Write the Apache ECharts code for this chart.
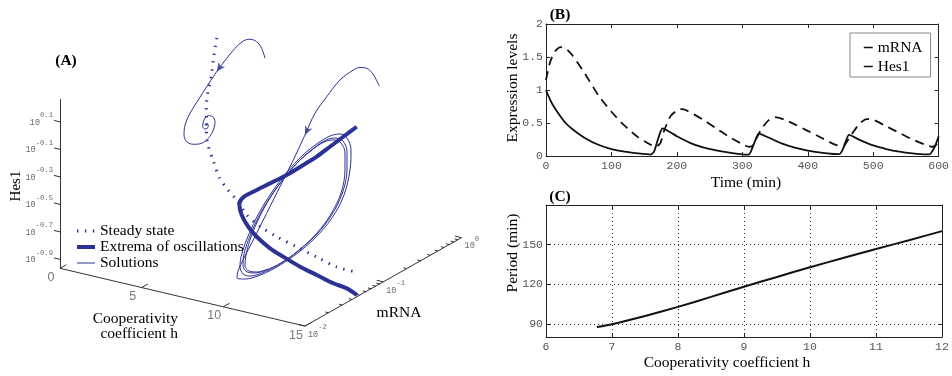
<!DOCTYPE html>
<html><head><meta charset="utf-8">
<script src="https://cdn.jsdelivr.net/npm/echarts@6/dist/echarts.min.js"></script>
<style>html,body{margin:0;padding:0;background:#fff}#c{width:952px;height:376px}</style>
</head><body><div id="c"></div>
<script>
// ===== Panel A data (3D: h, log10 mRNA, log10 Hes1) =====
const hRange = [0, 15];
const logMRNARange = [-2, 0];
const logHes1Range = [-0.965, 0.265];
const hTicks = [0, 5, 10, 15];
const hTickLabels = ['0', '5', '10', '15'];
const hes1Ticks = [0.1, -0.1, -0.3, -0.5, -0.7, -0.9];
const hes1TickLabels = ['0.1', '-0.1', '-0.3', '-0.5', '-0.7', '-0.9'];
const mrnaTicks = [-2, -1, 0];
const mrnaTickLabels = ['-2', '-1', '0'];

const steadyH = [1.6, 1.9, 2.2, 2.4, 2.7, 3.1, 3.6, 4.4, 5.1, 5.8, 6.6, 7.5, 8.5, 9.7, 11.1, 12.4, 13.8, 15];
const steadyLogMRNA = [-0.331, -0.436, -0.524, -0.613, -0.694, -0.778, -0.867, -0.955, -1.027, -1.074, -1.118, -1.180, -1.221, -1.254, -1.282, -1.308, -1.335, -1.336];
const steadyLogHes1 = [0.219, 0.114, 0.026, -0.063, -0.144, -0.228, -0.317, -0.405, -0.477, -0.524, -0.568, -0.630, -0.671, -0.704, -0.732, -0.758, -0.785, -0.786];

const extremaH = [15, 14.03, 13.07, 12.11, 11.2, 10.08, 9.0, 7.92, 7.25, 6.8, 7.40, 8.11, 8.81, 9.75, 10.58, 11.61, 12.60, 13.59, 14.35, 15];
const extremaLogMRNA = [-1.339, -1.308, -1.278, -1.247, -1.229, -1.207, -1.195, -1.183, -1.171, -1.128, -1.223, -1.287, -1.325, -1.351, -1.355, -1.356, -1.349, -1.344, -1.331, -1.335];
const extremaLogHes1 = [0.272, 0.162, 0.053, -0.056, -0.148, -0.259, -0.354, -0.449, -0.512, -0.587, -0.620, -0.665, -0.706, -0.755, -0.792, -0.835, -0.870, -0.904, -0.924, -0.953];

const solAH = 3.14;
const solALogMRNA = [-0.037, -0.079, -0.143, -0.228, -0.314, -0.420, -0.526, -0.654, -0.781, -0.889, -0.995, -1.058, -1.071, -1.037, -0.952, -0.845, -0.761, -0.697, -0.675, -0.705, -0.761, -0.816, -0.832, -0.803, -0.761, -0.774, -0.803, -0.778];
const solALogHes1 = [0.019, 0.105, 0.174, 0.219, 0.234, 0.215, 0.176, 0.120, 0.052, -0.010, -0.073, -0.138, -0.206, -0.266, -0.312, -0.339, -0.330, -0.290, -0.237, -0.191, -0.165, -0.179, -0.223, -0.249, -0.246, -0.217, -0.215, -0.228];

const solBH = 10;
const solBLogMRNA = [-0.008, -0.088, -0.169, -0.254, -0.340, -0.510, -0.679, -0.829, -0.957, -1.106, -1.276, -1.446, -1.617, -1.736, -1.812, -1.825,
  -1.723, -1.557, -1.340, -1.084, -0.829, -0.612, -0.458, -0.382, -0.369, -0.420, -0.510, -0.637, -0.791, -0.982, -1.186, -1.378, -1.544, -1.672, -1.761, -1.787, -1.748, -1.659,
  -1.506, -1.301, -1.059, -0.816, -0.625, -0.484, -0.420, -0.420, -0.471, -0.561, -0.688, -0.842, -1.020, -1.212, -1.391, -1.544, -1.659, -1.736, -1.748, -1.697, -1.595,
  -1.455, -1.263, -1.033, -0.803, -0.625, -0.497, -0.446, -0.446, -0.497, -0.586, -0.714, -0.867, -1.046, -1.225, -1.404, -1.544, -1.646, -1.710, -1.723, -1.672, -1.570, -1.429];
const solBLogHes1 = [0.000, 0.113, 0.181, 0.214, 0.223, 0.205, 0.138, 0.066, -0.051, -0.185, -0.324, -0.463, -0.602, -0.695, -0.765, -0.812,
  -0.852, -0.883, -0.895, -0.883, -0.841, -0.765, -0.647, -0.490, -0.349, -0.245, -0.187, -0.161, -0.163, -0.188, -0.246, -0.330, -0.429, -0.541, -0.651, -0.737, -0.807, -0.851,
  -0.878, -0.886, -0.869, -0.823, -0.747, -0.632, -0.478, -0.347, -0.251, -0.200, -0.174, -0.182, -0.212, -0.274, -0.355, -0.451, -0.560, -0.666, -0.749, -0.809, -0.849,
  -0.873, -0.883, -0.863, -0.813, -0.732, -0.621, -0.470, -0.346, -0.257, -0.206, -0.180, -0.189, -0.219, -0.278, -0.366, -0.466, -0.571, -0.682, -0.757, -0.810, -0.850, -0.874];

// ===== Panel B data =====
const timeMRNA = [0,5,10,20,30,40,60,80,100,120,140,160,165,170,175,178,190,200,220,240,260,280,300,310,314,320,325,340,360,380,400,420,440,448,453,458,463,480,500,520,540,560,580,586,594,600];
const mrnaLevels = [1.0,0.88,0.78,0.63,0.5,0.41,0.27,0.17,0.105,0.065,0.04,0.022,0.066,0.22,0.37,0.42,0.36,0.30,0.20,0.13,0.086,0.05,0.025,0.022,0.09,0.24,0.34,0.28,0.19,0.126,0.08,0.05,0.03,0.028,0.09,0.22,0.32,0.24,0.16,0.106,0.066,0.04,0.025,0.025,0.14,0.30];
const timeHes1 = [0,5,10,15,22,30,40,60,80,100,120,140,160,168,175,180,190,200,207,215,240,260,280,300,310,315,320,330,340,350,365,380,400,420,440,450,455,460,470,480,490,500,520,540,560,580,590,595,600];
const hes1Levels = [1.15,1.38,1.52,1.6,1.65,1.63,1.53,1.24,0.92,0.67,0.46,0.29,0.17,0.14,0.2,0.37,0.6,0.69,0.71,0.69,0.55,0.42,0.29,0.18,0.14,0.15,0.24,0.42,0.54,0.59,0.55,0.48,0.38,0.28,0.18,0.15,0.15,0.22,0.37,0.5,0.56,0.55,0.45,0.35,0.25,0.17,0.14,0.16,0.22];

// ===== Panel C data =====
const coopH = [6.77, 7, 7.5, 8, 8.5, 9, 9.5, 10, 10.5, 11, 11.5, 12];
const periodMin = [87.5, 89.7, 95.9, 102.8, 110.4, 118.1, 125.5, 132.9, 139.8, 146.7, 153.3, 160.2];
const periodGrid = [90, 120, 150];

// ===== view / style =====
const BLUE = '#2d3194';
const SERIF = "'Liberation Serif','Times New Roman',serif";
const MONO = "'Liberation Mono','Courier New',monospace";
const SANS = "'Liberation Sans',Arial,sans-serif";
const VIEW = {ox: 60, oy: 268.3, hx: 16.33, hy: 3.85, mx: 78.3, my: -44.2, zy: -137.5};
function proj(h, lm, lz) {
  const dm = lm - logMRNARange[0], dz = lz - logHes1Range[0];
  return [VIEW.ox + VIEW.hx * h + VIEW.mx * dm, VIEW.oy + VIEW.hy * h + VIEW.my * dm + VIEW.zy * dz];
}
const project3 = (hs, ms, zs) => ms.map((m, i) => proj(Array.isArray(hs) ? hs[i] : hs, m, zs[i]));
const steadyPts = project3(steadyH, steadyLogMRNA, steadyLogHes1);
const extremaPts = project3(extremaH, extremaLogMRNA, extremaLogHes1);
const solAPts = project3(solAH, solALogMRNA, solALogHes1);
const solBPts = project3(solBH, solBLogMRNA, solBLogHes1);
function arrowAt(pts, i) {
  const a = pts[i - 1], b = pts[i + 1];
  const ang = Math.atan2(-(b[1] - a[1]), b[0] - a[0]) * 180 / Math.PI - 90;
  return {value: pts[i], symbolRotate: ang};
}
const [H0, H1] = hRange, [LM0, LM1] = logMRNARange, [Z0, Z1] = logHes1Range;
const axisSegs = [[proj(H0, LM0, Z0), proj(H0, LM0, Z1)], [proj(H0, LM0, Z0), proj(H1, LM0, Z0)], [proj(H1, LM0, Z0), proj(H1, LM1, Z0)]];
const tickSegs = [];
hes1Ticks.forEach(z => tickSegs.push([proj(H0, LM0, z), proj(H0 - 0.37, LM0, z)]));
hTicks.forEach(h => tickSegs.push([proj(h, LM0, Z0), proj(h, LM0 + 0.08, Z0)]));
for (let d = LM0; d < LM1; d++) for (let k = 2; k <= 9; k++) {
  const m = d + Math.log10(k); tickSegs.push([proj(H1, m, Z0), proj(H1 - 0.2, m, Z0)]);
}
mrnaTicks.forEach(m => tickSegs.push([proj(H1, m, Z0), proj(H1 - 0.4, m, Z0)]));

const richSup = {
  b: {fontFamily: MONO, fontSize: 8.5, color: '#444', verticalAlign: 'bottom'},
  s: {fontFamily: MONO, fontSize: 7.2, color: '#444', verticalAlign: 'top', padding: [0, 0, 8, 0]}
};
const hidden = {show: false};
const frameLine = {show: true, onZero: false, lineStyle: {color: '#222', width: 1}};
const tickIn = {show: true, inside: true, length: 4, lineStyle: {color: '#222'}};
const monoLabel = {color: '#555', fontFamily: MONO, fontSize: 11.5};

const chart = echarts.init(document.getElementById('c'), null, {renderer: 'canvas', width: 952, height: 376});
chart.setOption({
  animation: false,
  backgroundColor: '#fff',
  grid: [
    {left: 0, top: 0, width: 500, height: 376},
    {left: 546, top: 24, width: 396, height: 132},
    {left: 546, top: 205, width: 396, height: 132}
  ],
  xAxis: [
    {gridIndex: 0, type: 'value', min: 0, max: 500, show: false},
    {gridIndex: 1, type: 'value', min: 0, max: 600, interval: 100, axisLine: frameLine, axisTick: tickIn,
      axisLabel: Object.assign({margin: 4}, monoLabel), splitLine: hidden},
    {gridIndex: 1, type: 'value', position: 'top', min: 0, max: 600, interval: 100, axisLine: frameLine, axisTick: tickIn,
      axisLabel: hidden, splitLine: hidden},
    {gridIndex: 2, type: 'value', min: 6, max: 12, interval: 1, axisLine: frameLine, axisTick: tickIn,
      axisLabel: Object.assign({margin: 4}, monoLabel),
      splitLine: {show: true, lineStyle: {type: [1, 3], color: '#333', width: 1}}},
    {gridIndex: 2, type: 'value', position: 'top', min: 6, max: 12, interval: 1, axisLine: frameLine, axisTick: tickIn,
      axisLabel: hidden, splitLine: hidden}
  ],
  yAxis: [
    {gridIndex: 0, type: 'value', min: 0, max: 376, inverse: true, show: false},
    {gridIndex: 1, type: 'value', min: 0, max: 2, interval: 0.5, axisLine: frameLine, axisTick: tickIn,
      axisLabel: Object.assign({margin: 3}, monoLabel), splitLine: hidden},
    {gridIndex: 1, type: 'value', position: 'right', min: 0, max: 2, interval: 0.5, axisLine: frameLine, axisTick: tickIn,
      axisLabel: hidden, splitLine: hidden},
    {gridIndex: 2, type: 'value', min: 80, max: 180, axisLine: frameLine,
      axisTick: Object.assign({customValues: periodGrid}, tickIn),
      axisLabel: Object.assign({margin: 3, customValues: periodGrid}, monoLabel), splitLine: hidden},
    {gridIndex: 2, type: 'value', position: 'right', min: 80, max: 180, axisLine: frameLine,
      axisTick: Object.assign({customValues: periodGrid}, tickIn), axisLabel: hidden, splitLine: hidden}
  ],
  legend: [
    {data: [
        {name: 'Steady state', lineStyle: {width: 3}},
        {name: 'Extrema of oscillations', lineStyle: {width: 4}},
        {name: 'Solutions', lineStyle: {width: 1}}
      ], orient: 'vertical', left: 75, top: 223,
      itemWidth: 18, itemHeight: 8, itemGap: 0, padding: 0, selectedMode: false,
      itemStyle: {opacity: 0},
      textStyle: {fontFamily: SERIF, fontSize: 15.5, color: '#000', lineHeight: 13.5}},
    {data: [
        {name: 'mRNA', lineStyle: {width: 1.5}},
        {name: 'Hes1', lineStyle: {width: 1.5}}
      ], orient: 'vertical', left: 850, top: 33, itemWidth: 9, itemHeight: 8, itemGap: 2,
      padding: [6, 8, 2, 13], borderColor: '#888', borderWidth: 1, backgroundColor: '#fff', selectedMode: false,
      itemStyle: {opacity: 0},
      textStyle: {fontFamily: SERIF, fontSize: 15.5, color: '#000', lineHeight: 17}}
  ],
  series: [
    {type: 'lines', coordinateSystem: 'cartesian2d', xAxisIndex: 0, yAxisIndex: 0, silent: true,
      lineStyle: {color: '#333', width: 1, opacity: 1}, data: axisSegs.map(s => ({coords: s}))},
    {type: 'lines', coordinateSystem: 'cartesian2d', xAxisIndex: 0, yAxisIndex: 0, silent: true,
      lineStyle: {color: '#333', width: 1, opacity: 1}, data: tickSegs.map(s => ({coords: s}))},
    {name: 'Steady state', type: 'line', xAxisIndex: 0, yAxisIndex: 0, symbol: 'none', smooth: 0.3, color: BLUE,
      lineStyle: {color: BLUE, width: 3, type: [1.4, 6.5], cap: 'butt'}, data: steadyPts},
    {name: 'Extrema of oscillations', type: 'line', xAxisIndex: 0, yAxisIndex: 0, symbol: 'none', smooth: 0.3, color: BLUE,
      lineStyle: {color: BLUE, width: 4}, data: extremaPts},
    {name: 'Solutions', type: 'line', xAxisIndex: 0, yAxisIndex: 0, symbol: 'none', smooth: 0.35, color: BLUE,
      lineStyle: {color: BLUE, width: 1}, data: solAPts},
    {name: 'Solutions', type: 'line', xAxisIndex: 0, yAxisIndex: 0, symbol: 'none', smooth: 0.35, color: BLUE,
      lineStyle: {color: BLUE, width: 1}, data: solBPts},
    {type: 'scatter', xAxisIndex: 0, yAxisIndex: 0, symbol: 'arrow', symbolSize: [6, 9], silent: true,
      itemStyle: {color: BLUE}, data: [arrowAt(solAPts, 7), arrowAt(solBPts, 8)]},
    {type: 'scatter', xAxisIndex: 0, yAxisIndex: 0, symbolSize: 0.01, silent: true, itemStyle: {color: 'transparent'},
      label: {show: true, position: 'left', distance: 1, offset: [0, -1], rich: richSup},
      data: hes1Ticks.map((z, i) => ({value: proj(H0 - 0.37, LM0, z), label: {formatter: '{b|10}{s|' + hes1TickLabels[i] + '}'}}))},
    {type: 'scatter', xAxisIndex: 0, yAxisIndex: 0, symbolSize: 0.01, silent: true, itemStyle: {color: 'transparent'},
      label: {show: true, position: 'right', distance: 3, offset: [0, 5.5], rich: richSup},
      data: mrnaTicks.map((m, i) => ({value: proj(H1, m, Z0), label: {formatter: '{b|10}{s|' + mrnaTickLabels[i] + '}'}}))},
    {type: 'scatter', xAxisIndex: 0, yAxisIndex: 0, symbolSize: 0.01, silent: true, itemStyle: {color: 'transparent'},
      label: {show: true, position: 'inside', offset: [-9, 9], fontFamily: SANS, fontSize: 12.5, color: '#555'},
      data: hTicks.map((h, i) => ({value: proj(h, LM0, Z0), label: {formatter: hTickLabels[i]}}))},
    {name: 'mRNA', type: 'line', xAxisIndex: 1, yAxisIndex: 1, symbol: 'none', smooth: 0.2, color: '#111',
      lineStyle: {color: '#111', width: 1.8}, data: timeMRNA.map((t, i) => [t, mrnaLevels[i]])},
    {name: 'Hes1', type: 'line', xAxisIndex: 1, yAxisIndex: 1, symbol: 'none', smooth: 0.2, color: '#111',
      lineStyle: {color: '#111', width: 1.8, type: [9, 6]}, data: timeHes1.map((t, i) => [t, hes1Levels[i]])},
    {name: 'Period', type: 'line', xAxisIndex: 3, yAxisIndex: 3, symbol: 'none', smooth: 0.2, color: '#111',
      lineStyle: {color: '#111', width: 2}, data: coopH.map((h, i) => [h, periodMin[i]]),
      markLine: {silent: true, symbol: 'none', label: {show: false}, animation: false,
        lineStyle: {type: [1, 3], color: '#333', width: 1}, data: periodGrid.map(v => ({yAxis: v}))}}
  ],
  graphic: [
    {type: 'text', x: 66, y: 61, style: {text: '(A)', font: 'bold 15.5px ' + SERIF, fill: '#000', textAlign: 'center', textVerticalAlign: 'middle'}},
    {type: 'text', x: 560, y: 15, style: {text: '(B)', font: 'bold 15.5px ' + SERIF, fill: '#000', textAlign: 'center', textVerticalAlign: 'middle'}},
    {type: 'text', x: 560, y: 197, style: {text: '(C)', font: 'bold 15.5px ' + SERIF, fill: '#000', textAlign: 'center', textVerticalAlign: 'middle'}},
    {type: 'text', x: 16, y: 186, rotation: Math.PI / 2, style: {text: 'Hes1', font: '15px ' + SERIF, fill: '#000', textAlign: 'center', textVerticalAlign: 'middle'}},
    {type: 'text', x: 178, y: 319, style: {text: 'Cooperativity', font: '15.5px ' + SERIF, fill: '#000', textAlign: 'right', textVerticalAlign: 'middle'}},
    {type: 'text', x: 178, y: 334, style: {text: 'coefficient h', font: '15.5px ' + SERIF, fill: '#000', textAlign: 'right', textVerticalAlign: 'middle'}},
    {type: 'text', x: 399, y: 312.5, style: {text: 'mRNA', font: '15.5px ' + SERIF, fill: '#000', textAlign: 'center', textVerticalAlign: 'middle'}},
    {type: 'text', x: 746, y: 183, style: {text: 'Time (min)', font: '15.5px ' + SERIF, fill: '#000', textAlign: 'center', textVerticalAlign: 'middle'}},
    {type: 'text', x: 513, y: 88, rotation: Math.PI / 2, style: {text: 'Expression levels', font: '15.5px ' + SERIF, fill: '#000', textAlign: 'center', textVerticalAlign: 'middle'}},
    {type: 'text', x: 727, y: 363, style: {text: 'Cooperativity coefficient h', font: '15.5px ' + SERIF, fill: '#000', textAlign: 'center', textVerticalAlign: 'middle'}},
    {type: 'text', x: 513, y: 253, rotation: Math.PI / 2, style: {text: 'Period (min)', font: '15.5px ' + SERIF, fill: '#000', textAlign: 'center', textVerticalAlign: 'middle'}}
  ]
});
</script>
</body></html>
